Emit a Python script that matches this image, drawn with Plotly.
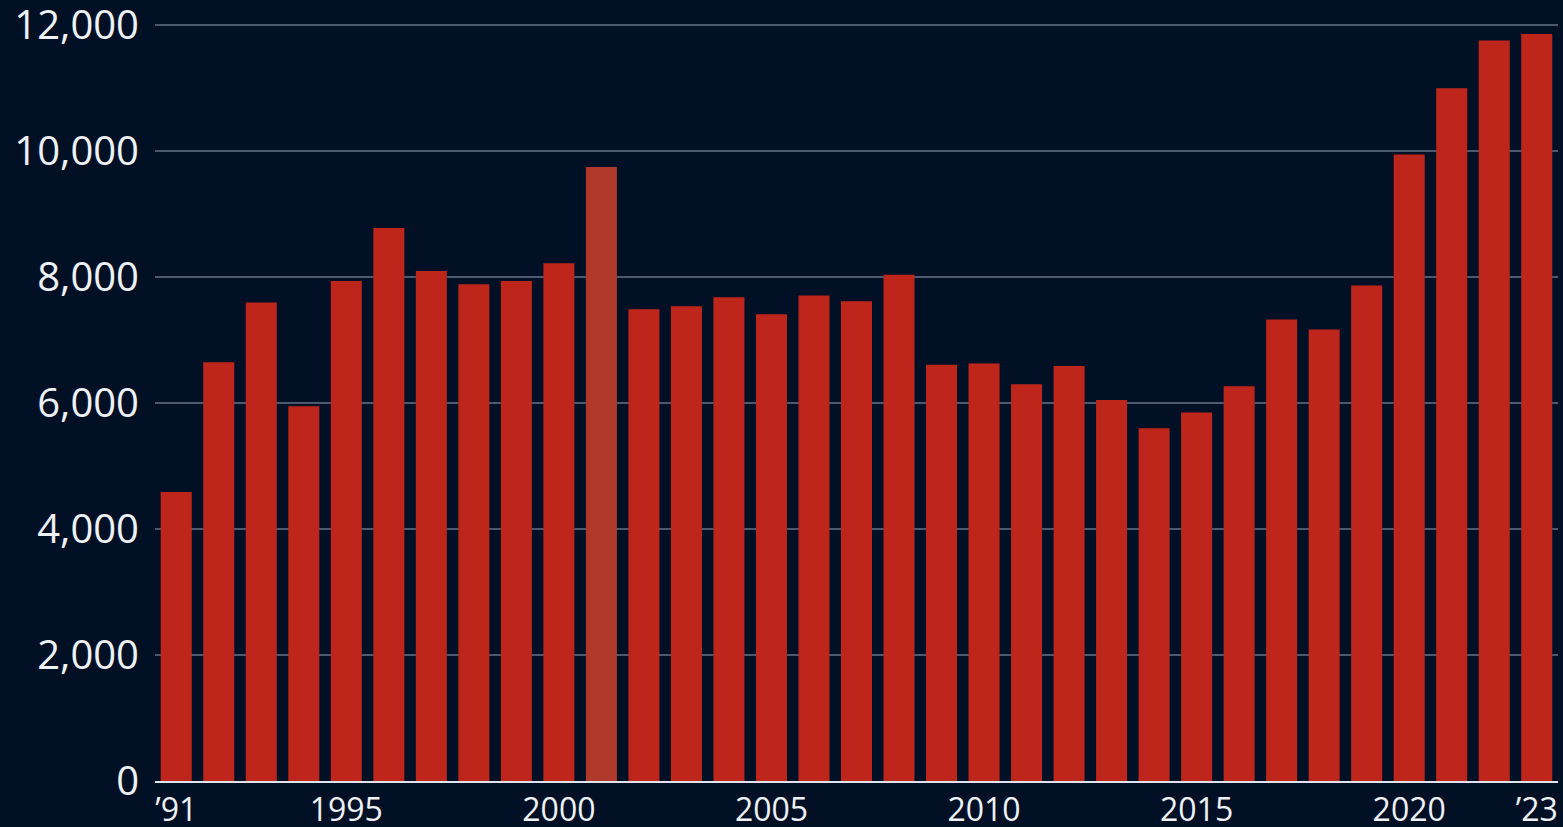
import plotly.graph_objects as go

years = list(range(1991, 2024))
values = [4590, 6650, 7600, 5950, 7940, 8780, 8100, 7890, 7940, 8220,
          9750, 7490, 7540, 7680, 7410, 7710, 7620, 8040, 6610, 6630,
          6300, 6590, 6050, 5600, 5850, 6270, 7330, 7170, 7870, 9950,
          11000, 11760, 11860]
tick_years = [1991, 1995, 2000, 2005, 2010, 2015, 2020, 2023]
tick_labels = ["\u201991", "1995", "2000", "2005", "2010", "2015", "2020", "\u201923"]
y_ticks = [0, 2000, 4000, 6000, 8000, 10000, 12000]
highlight_year = 2001

bar_color = "#bf261b"
highlight_color = "#b0382a"
colors = [highlight_color if y == highlight_year else bar_color for y in years]

bg = "#021025"

fig = go.Figure(go.Bar(x=years, y=values, marker=dict(color=colors, line=dict(width=0))))

fig.update_layout(
    width=1563, height=827,
    paper_bgcolor=bg, plot_bgcolor=bg,
    margin=dict(l=155, r=5, t=19, b=46),
    bargap=0.27,
    showlegend=False,
    font=dict(family="Open Sans", color="#eef2f6", size=32),
)
fig.update_xaxes(
    range=[1990.5, 2023.5],
    tickmode="array", tickvals=tick_years, ticktext=tick_labels,
    showgrid=False, zeroline=False,
    showline=True, linecolor="#dfe5ec", linewidth=2,
    ticks="", ticklabelstandoff=0, ticklabeloverflow="allow",
    tickfont=dict(size=32, family="Open Sans", color="#eef2f6"),
    automargin=False,
)
fig.update_yaxes(
    range=[0, 12100],
    tickmode="array", tickvals=y_ticks,
    tickformat=",d",
    showgrid=True, gridcolor="#4b5a6e", gridwidth=2,
    zeroline=False, showline=False,
    ticks="", ticklabelstandoff=15, ticklabeloverflow="allow",
    tickfont=dict(size=40, family="Open Sans", color="#eef2f6"),
    automargin=False,
)

fig.write_html(
    "out.html",
    config={"displayModeBar": False},
    post_script="document.body.style.margin='0';document.body.style.padding='0';document.body.style.background='%s';" % bg,
)
